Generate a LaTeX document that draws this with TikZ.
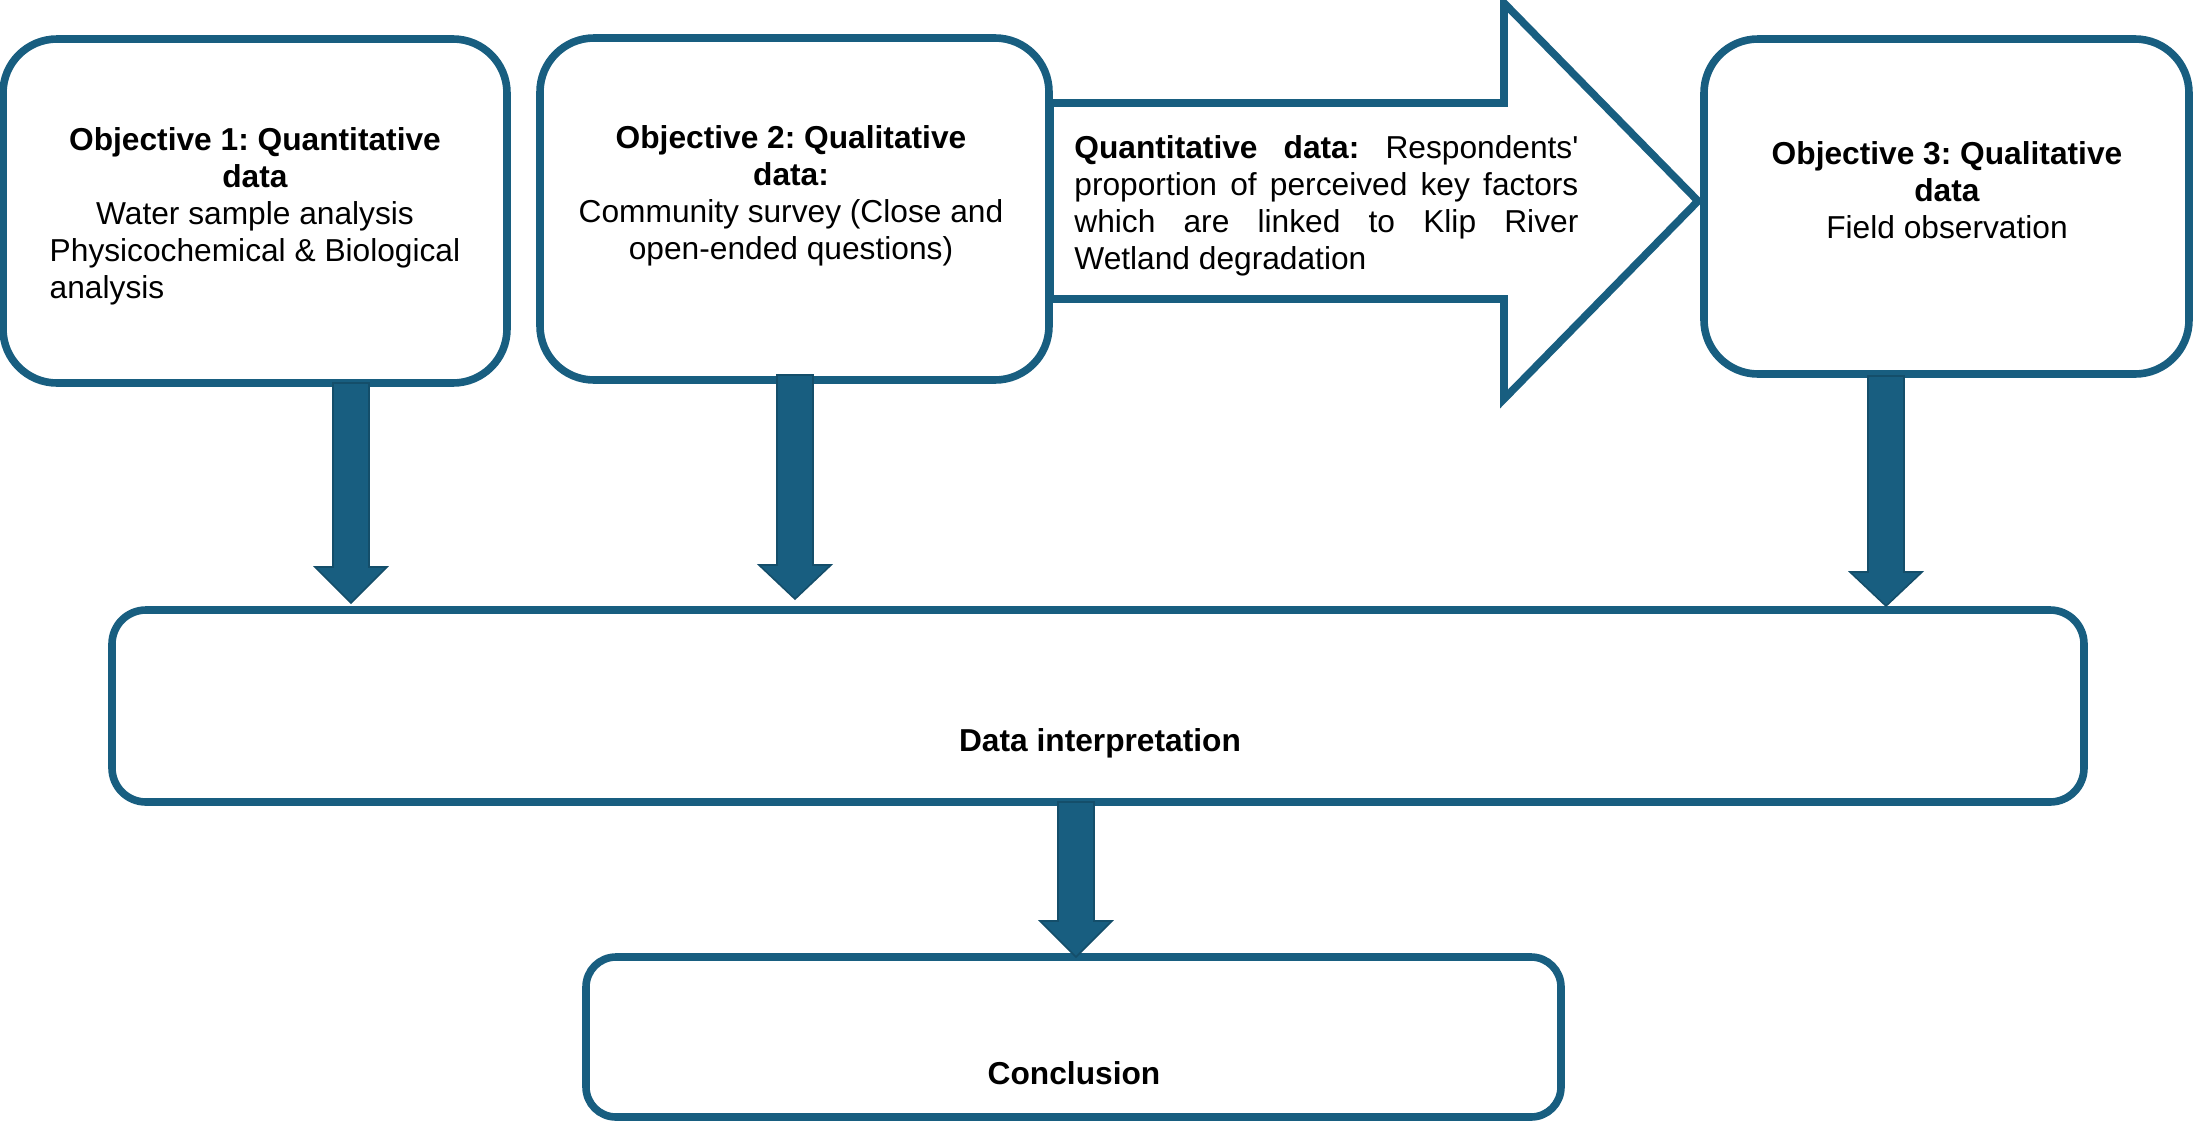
\documentclass[tikz,border=0pt]{standalone}
\usepackage{fontspec}
\setmainfont{Liberation Sans}
\frenchspacing
\definecolor{bl}{RGB}{24,94,128}
\definecolor{bld}{RGB}{20,78,106}
\tikzset{
  rbox/.style={draw=bl, line width=3.8pt, fill=white, rectangle, rounded corners=27pt, inner sep=0pt},
  txt/.style={inner sep=0pt, font=\fontsize{15.85}{18.5}\selectfont, align=center},
  blk/.style={fill=bl, draw=bld, line width=0.8pt},
  bigarr/.style={draw=bl, line width=3.8pt, fill=white, line join=miter},
}
\newcommand\blockarr[4]{\filldraw[blk] (#1-18,#2) -- (#1+18,#2) -- (#1+18,#3) -- (#1+36,#3) -- (#1,#4) -- (#1-36,#3) -- (#1-18,#3) -- cycle;}
\begin{document}
\begin{tikzpicture}[x=0.5pt,y=-0.5pt]
\useasboundingbox (0,0) rectangle (2197,1120);
% boxes
\node[rbox, minimum width=252pt, minimum height=172pt] (b1) at (255,211) {};
\node[rbox, minimum width=254.5pt, minimum height=171pt] (b2) at (794.5,209) {};
\node[rbox, minimum width=242.5pt, minimum height=167.5pt] (b3) at (1946.5,206.5) {};
\node[rbox, rounded corners=17pt, minimum width=986pt, minimum height=96pt] (data) at (1098,706) {};
\node[rbox, rounded corners=15pt, minimum width=487.5pt, minimum height=80pt] (conc) at (1073.5,1037) {};
% big arrow
\draw[bigarr] (1050,103) -- (1504,103) -- (1504,3) -- (1698,201) -- (1504,399) -- (1504,299) -- (1050,299) -- cycle;
% texts (base anchor = baseline of last line)
\node[txt, anchor=base] (t1) at (255,261) {\textbf{Objective 1: Quantitative}\\\textbf{data}\\Water sample analysis\\\begin{tabular}[t]{@{}l@{}}Physicochemical \& Biological\\analysis\end{tabular}};
\node[txt, anchor=base] (t2) at (791,259) {\textbf{Objective 2: Qualitative}\\\textbf{data:}\\Community survey (Close and\\open-ended questions)};
\node[txt, anchor=base] (t3) at (1947,238) {\textbf{Objective 3: Qualitative}\\\textbf{data}\\Field observation};
\node[txt, align=left, anchor=base west] (tq) at (1074,269) {\makebox[252pt][s]{\textbf{Quantitative data:} Respondents\textquotesingle}\\\makebox[252pt][s]{proportion of perceived key factors}\\\makebox[252pt][s]{which are linked to Klip River}\\Wetland degradation};
\node[txt, anchor=base] (td) at (1100,751) {\textbf{Data interpretation}};
\node[txt, anchor=base] (tc) at (1074,1084) {\textbf{Conclusion}};
% block arrows
\blockarr{351}{383}{567}{603}
\blockarr{795}{375}{565}{599}
\blockarr{1886}{376}{572}{606}
\blockarr{1076}{802}{921}{957}
\end{tikzpicture}
\end{document}
